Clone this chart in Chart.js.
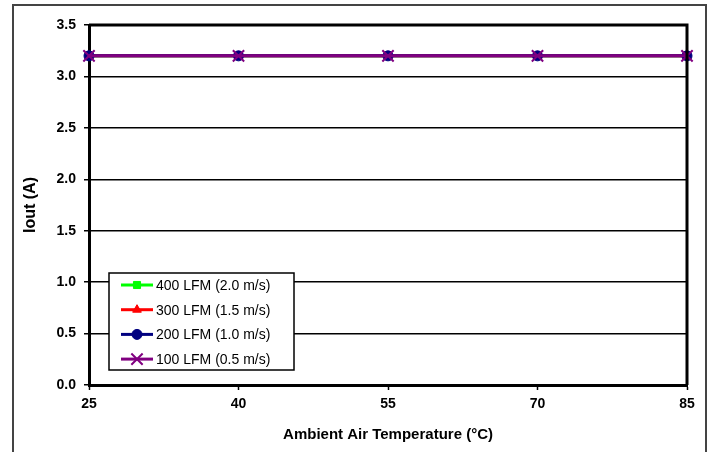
<!DOCTYPE html>
<html>
<head>
<meta charset="utf-8">
<script src="https://cdn.jsdelivr.net/npm/chart.js@4/dist/chart.umd.min.js"></script>
<style>
  html, body { margin: 0; padding: 0; background: #fff; }
  #wrap { width: 709px; height: 452px; }
</style>
</head>
<body>
<div id="wrap"><canvas id="tempChart" width="709" height="452"></canvas></div>
<script>
// ambient temperature (°C) and output current (A) per airflow
const temps = [25, 40, 55, 70, 85];
const lfm400 = [3.2, 3.2, 3.2, 3.2, 3.2];
const lfm300 = [3.2, 3.2, 3.2, 3.2, 3.2];
const lfm200 = [3.2, 3.2, 3.2, 3.2, 3.2];
const lfm100 = [3.2, 3.2, 3.2, 3.2, 3.2];
const seriesLabels = ['400 LFM (2.0 m/s)', '300 LFM (1.5 m/s)', '200 LFM (1.0 m/s)', '100 LFM (0.5 m/s)'];

const FONT = 'Arial, "Liberation Sans", Helvetica, sans-serif';

function pts(values) {
    return temps.map((t, i) => ({ x: t, y: values[i] }));
}

// outer frame + plot border
const framePlugin = {
    id: 'frame',
    beforeDraw(chart) {
        const c = chart.ctx;
        c.save();
        c.fillStyle = '#fff';
        c.fillRect(0, 0, chart.width, chart.height);
        c.strokeStyle = '#444';
        c.lineWidth = 2;
        c.strokeRect(13, 5, 693, 470);
        c.restore();
    },
    afterDatasetsDraw(chart) {
        const a = chart.chartArea;
        const c = chart.ctx;
        c.save();
        c.strokeStyle = '#000';
        c.lineWidth = 3;
        c.beginPath();
        c.moveTo(a.left, a.top);
        c.lineTo(a.right, a.top);
        c.lineTo(a.right, a.bottom);
        c.stroke();
        c.restore();
    }
};

// legend box inside plot, bottom-left
const boxLegend = {
    id: 'boxLegend',
    afterDraw(chart) {
        const c = chart.ctx;
        const x0 = 109, y0 = 273, w = 185, h = 97;
        c.save();
        c.fillStyle = '#fff';
        c.fillRect(x0, y0, w, h);
        c.strokeStyle = '#000';
        c.lineWidth = 1.5;
        c.strokeRect(x0, y0, w, h);
        c.font = '14px ' + FONT;
        c.textBaseline = 'middle';
        chart.data.datasets.forEach((ds, i) => {
            const y = 285 + i * 24.7;
            c.strokeStyle = ds.borderColor;
            c.lineWidth = 3;
            c.beginPath();
            c.moveTo(121, y);
            c.lineTo(153, y);
            c.stroke();
            c.fillStyle = ds.pointBackgroundColor;
            c.strokeStyle = ds.pointBorderColor;
            c.lineWidth = ds.pointBorderWidth;
            Chart.helpers.drawPoint(c, {
                pointStyle: ds.pointStyle,
                radius: ds.pointRadius,
                borderWidth: ds.pointBorderWidth,
                rotation: 0
            }, 137, y);
            c.fillStyle = '#000';
            c.fillText(ds.label, 156, y + 1);
        });
        c.restore();
    }
};

function series(label, values, color, style, order) {
    const isCross = style === 'crossRot';
    return {
        label: label,
        data: pts(values),
        borderColor: color,
        backgroundColor: color,
        borderWidth: 3,
        pointStyle: style,
        pointRadius: isCross ? 8 : 5,
        pointBackgroundColor: color,
        pointBorderColor: color,
        pointBorderWidth: isCross ? 2 : 1,
        clip: false,
        order: order
    };
}

document.addEventListener('DOMContentLoaded', function() {
    const ctx = document.getElementById('tempChart');
    new Chart(ctx, {
        type: 'line',
        data: {
            datasets: [
                series(seriesLabels[0], lfm400, '#00ff00', 'rect', 3),
                series(seriesLabels[1], lfm300, '#ff0000', 'triangle', 2),
                series(seriesLabels[2], lfm200, '#000080', 'circle', 1),
                series(seriesLabels[3], lfm100, '#800080', 'crossRot', 0)
            ]
        },
        options: {
            responsive: false,
            animation: false,
            devicePixelRatio: 1,
            layout: { padding: { left: 0, top: 25, right: 22, bottom: 4 } },
            plugins: {
                legend: { display: false },
                tooltip: { enabled: false }
            },
            scales: {
                x: {
                    type: 'linear',
                    min: 25,
                    max: 85,
                    afterFit: s => { s.height = 63; },
                    afterBuildTicks: s => { s.ticks = temps.map(v => ({ value: v })); },
                    border: { display: true, color: '#000', width: 3 },
                    grid: {
                        drawOnChartArea: false,
                        drawTicks: true,
                        tickLength: 5,
                        tickColor: '#000',
                        tickWidth: 1.5
                    },
                    ticks: {
                        color: '#000',
                        padding: 6,
                        maxRotation: 0,
                        font: { family: FONT, size: 14, weight: 'bold' }
                    },
                    title: {
                        display: true,
                        text: 'Ambient Air Temperature (°C)',
                        color: '#000',
                        padding: { top: 4, bottom: 4 },
                        font: { family: FONT, size: 15, weight: 'bold' }
                    }
                },
                y: {
                    min: 0,
                    max: 3.5,
                    afterFit: s => { s.width = 89; },
                    border: { display: true, color: '#000', width: 3 },
                    grid: {
                        color: '#000',
                        lineWidth: 1.5,
                        drawTicks: true,
                        tickLength: 5,
                        tickColor: '#000',
                        tickWidth: 1.5
                    },
                    ticks: {
                        stepSize: 0.5,
                        color: '#000',
                        padding: 8,
                        callback: v => v.toFixed(1),
                        font: { family: FONT, size: 14, weight: 'bold' }
                    },
                    title: {
                        display: true,
                        text: 'Iout (A)',
                        color: '#000',
                        padding: { top: 21, bottom: 0 },
                        font: { family: FONT, size: 16, weight: 'bold' }
                    }
                }
            }
        },
        plugins: [framePlugin, boxLegend]
    });
});
</script>
</body>
</html>
